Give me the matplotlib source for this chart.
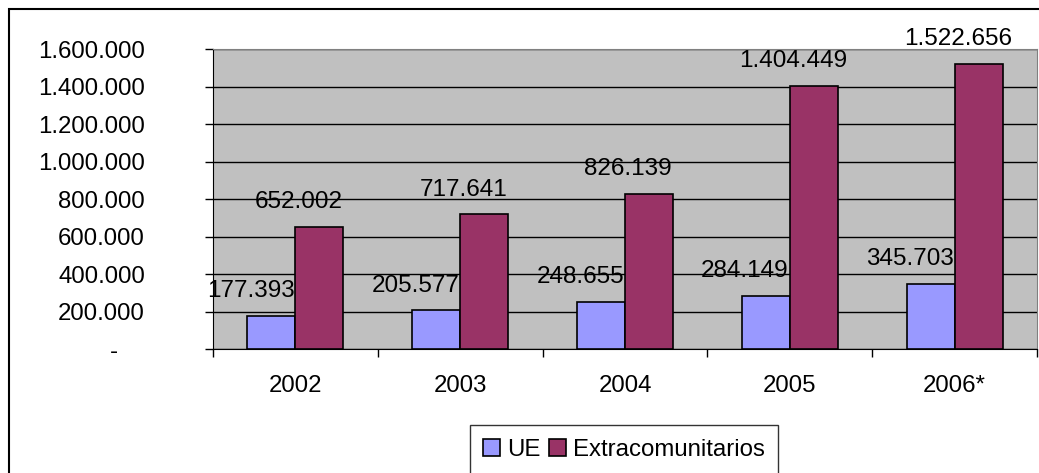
import numpy as np
import matplotlib
matplotlib.use("Agg")
import matplotlib.pyplot as plt
from matplotlib.patches import Rectangle

years = ["2002", "2003", "2004", "2005", "2006*"]
ue = [177393, 205577, 248655, 284149, 345703]
extra = [652002, 717641, 826139, 1404449, 1522656]
y_ticks = [0, 200000, 400000, 600000, 800000, 1000000, 1200000, 1400000, 1600000]


def fmt_es(v):
    if v == 0:
        return "-    "
    return "{:,}".format(v).replace(",", ".")


plt.rcParams["font.family"] = ["Liberation Sans", "DejaVu Sans"]
plt.rcParams["font.size"] = 17.3

fig = plt.figure(figsize=(10.39, 4.73), dpi=100)
ax = fig.add_axes([213 / 1039, 1 - 349 / 473, (1037 - 213) / 1039, (349 - 49) / 473])
ax.set_facecolor("#c0c0c0")

x = np.arange(len(years))
w = 0.291
b1 = ax.bar(x - w / 2, ue, w, color="#9999ff", edgecolor="black", linewidth=1.2,
            label="UE", zorder=3)
b2 = ax.bar(x + w / 2, extra, w, color="#993366", edgecolor="black", linewidth=1.2,
            label="Extracomunitarios", zorder=3)

# data labels sit a bit to the left of each bar, as in the original sheet
for bars, vals in [(b1, ue), (b2, extra)]:
    for bar, v in zip(bars, vals):
        ax.annotate(fmt_es(v), xy=(bar.get_x() + bar.get_width() / 2, v),
                    xytext=(-15, 10), textcoords="offset points",
                    ha="center", va="bottom", fontsize=17.5, zorder=4)

ax.set_xlim(-0.5, len(years) - 0.5)
ax.set_ylim(0, 1600000)
ax.set_yticks(y_ticks)
ax.set_yticklabels([fmt_es(v) for v in y_ticks])
ax.yaxis.grid(True, color="black", linewidth=1.0, zorder=1)

ax.set_xticks(x)
ax.set_xticklabels(years)
ax.set_xticks(np.arange(len(years) + 1) - 0.5, minor=True)
ax.tick_params(axis="x", which="major", length=0, pad=19)
ax.tick_params(axis="x", which="minor", length=6, width=1.0, direction="out")
ax.tick_params(axis="y", length=6, width=1.0, direction="out", pad=43)
for lbl in ax.get_yticklabels():
    lbl.set_horizontalalignment("right")

for side in ["top", "right"]:
    ax.spines[side].set_color("#808080")
for side in ["left", "bottom"]:
    ax.spines[side].set_color("black")

leg = fig.legend(loc="center", bbox_to_anchor=(624 / 1039, 1 - 449.5 / 473),
                 ncol=2, frameon=True, fancybox=False, handlelength=0.7,
                 handleheight=0.7, handletextpad=0.3, columnspacing=0.35,
                 borderpad=0.55, fontsize=17.3)
leg.get_frame().set_edgecolor("black")
leg.get_frame().set_linewidth(1.0)

fig.patches.append(Rectangle((9 / 1039, -0.1), 1.2, 1.1 - 9 / 473, transform=fig.transFigure,
                             fill=False, edgecolor="black", linewidth=1.5, clip_on=False))

fig.savefig("out.png", dpi=100)
